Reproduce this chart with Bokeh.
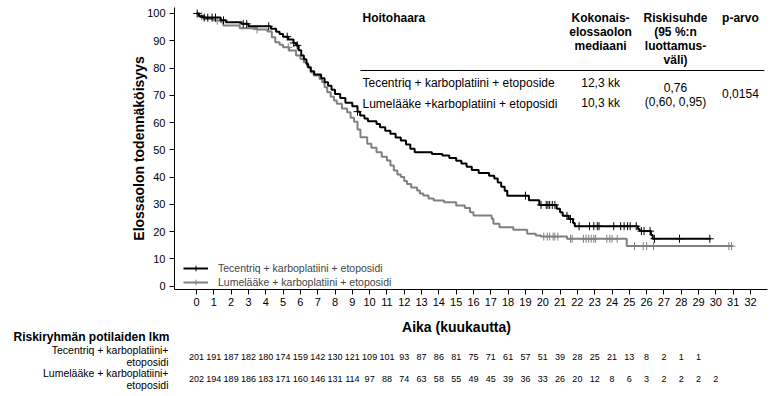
import numpy as np
from bokeh.plotting import figure
from bokeh.models import (ColumnDataSource, Label, Legend, LegendItem,
                          FixedTicker, Range1d)
from bokeh.core.properties import value
from bokeh.embed import file_html
from bokeh.resources import INLINE

# ---------------- data ----------------
months = list(range(0, 33))
y_ticks = list(range(0, 101, 10))

tec_name = "Tecentriq + karboplatiini + etoposidi"
plc_name = "Lumelääke + karboplatiini + etoposidi"

# Kaplan-Meier steps (time in months, survival %)
tec_t = [0, 0.15, 0.4, 1.4, 1.7, 2.6, 3.0, 4.3, 4.6, 4.8, 5.0, 5.3, 5.6, 5.75, 5.9,
         6.05, 6.2, 6.35, 6.45, 6.6, 6.8, 7.2, 7.4, 7.6, 7.8, 8.0, 8.3, 8.6, 9.0,
         9.3, 9.45, 9.7, 9.9, 10.4, 10.6, 10.9, 11.2, 11.5, 11.8, 12.1, 12.35, 12.6,
         13.6, 14.2, 14.6, 15.0, 15.3, 15.6, 15.9, 16.3, 16.9, 17.2, 17.4, 17.6,
         17.8, 17.95, 19.2, 19.8, 20.8, 21.0, 21.15, 21.5, 21.75, 21.85, 25.5,
         25.6, 26.25, 26.35, 29.7]
tec_s = [100, 99.0, 98.5, 97.5, 96.8, 96.2, 95.3, 94.4, 93.3, 92.5, 91.5, 90.5, 89.2,
         88.3, 86.5, 84.6, 83.2, 81.5, 80.2, 78.8, 77.6, 76.3, 74.8, 73.5, 72.0,
         70.5, 69.0, 67.3, 66.0, 64.0, 62.6, 61.5, 60.5, 59.5, 58.3, 57.0, 55.9,
         54.5, 53.4, 52.0, 50.4, 49.1, 48.5, 47.9, 47.0, 46.0, 45.0, 43.8, 42.6,
         41.5, 40.5, 39.5, 38.0, 36.5, 35.0, 33.2, 31.5, 29.8, 28.4, 27.1, 25.8,
         24.6, 23.2, 22.0, 21.0, 20.2, 18.8, 17.4, 17.4]
tec_cens = [0.04, 0.45, 0.65, 0.9, 1.1, 1.56, 2.7, 2.9, 4.17, 5.24, 5.62, 5.82, 9.3,
            19.0, 19.9, 20.2, 20.3, 20.4, 20.55, 20.7, 21.4, 21.6, 22.1, 22.7, 22.95,
            23.15, 23.25, 24.1, 24.5, 24.7, 24.9, 25.05, 25.4, 25.7, 25.85, 26.2,
            26.45, 27.9, 29.65]

plc_t = [0, 0.15, 0.4, 1.0, 1.4, 1.55, 2.5, 3.5, 4.1, 4.35, 4.55, 4.8, 5.0, 5.35,
         5.75, 6.0, 6.2, 6.4, 6.6, 6.77, 7.1, 7.26, 7.4, 7.55, 7.75, 7.94, 8.1, 8.4,
         8.7, 8.9, 9.1, 9.3, 9.47, 9.86, 10.1, 10.4, 10.7, 11.0, 11.2, 11.4, 11.6,
         11.8, 12.0, 12.16, 12.4, 12.74, 12.9, 13.1, 13.4, 13.7, 14.3, 15.0, 15.5,
         15.8, 16.0, 17.05, 17.15, 17.5, 18.3, 19.1, 19.6, 19.9, 21.4, 24.85, 31.0]
plc_s = [100, 99.0, 98.0, 97.4, 96.8, 95.6, 94.6, 94.1, 93.4, 91.3, 89.5, 88.5, 87.6,
         86.4, 84.6, 83.3, 82.1, 80.5, 78.5, 77.3, 76.0, 74.8, 73.0, 71.1, 69.5,
         68.1, 66.9, 65.2, 63.8, 61.8, 60.3, 57.5, 54.6, 52.2, 50.8, 49.1, 47.5,
         46.1, 44.3, 42.4, 41.0, 40.0, 38.6, 37.5, 36.2, 35.1, 34.0, 33.3, 32.2,
         31.4, 30.8, 29.6, 28.7, 27.1, 25.9, 24.7, 22.9, 21.6, 20.7, 19.2, 18.6,
         18.2, 17.4, 14.7, 14.7]
plc_cens = [0.3, 1.2, 3.5, 5.3, 20.06, 20.26, 20.4, 20.6, 20.7, 20.87, 21.6, 21.7,
            22.35, 22.5, 22.65, 22.8, 22.95, 23.05, 23.7, 23.87, 24.0, 24.3, 25.3,
            25.8, 26.0, 26.4, 30.75, 30.9]

risk_tec = [201, 191, 187, 182, 180, 174, 159, 142, 130, 121, 109, 101, 93, 87, 86,
            81, 75, 71, 61, 57, 51, 39, 28, 25, 21, 13, 8, 2, 1, 1]
risk_plc = [202, 194, 189, 186, 183, 171, 160, 146, 131, 114, 97, 88, 74, 63, 58, 55,
            49, 45, 39, 36, 33, 26, 20, 12, 8, 6, 3, 2, 2, 2, 2]

# summary table
tbl_head = ["Hoitohaara", ["Kokonais-", "elossaolon", "mediaani"],
            ["Riskisuhde", "(95 %:n", "luottamus-", "väli)"], "p-arvo"]
tbl_arms = ["Tecentriq + karboplatiini + etoposide",
            "Lumelääke +karboplatiini + etoposidi"]
tbl_median = ["12,3 kk", "10,3 kk"]
tbl_hr = ["0,76", "(0,60, 0,95)"]
tbl_p = "0,0154"

x_title = "Aika (kuukautta)"
y_title = "Elossaolon todennäköisyys"
risk_title = "Riskiryhmän potilaiden lkm"
risk_rows = [["Tecentriq + karboplatiini+", "etoposidi"],
             ["Lumelääke + karboplatiini+", "etoposidi"]]

# ---------------- layout / styling ----------------
FONT = "Liberation Sans"
BLACK = "#000000"
GRAY = "#808080"
W = 776
PX0 = 196.0          # x pixel of month 0
PXM = 17.3125        # pixels per month
FRAME_L, FRAME_R = 174, 767


def px2t(px):
    return (px - PX0) / PXM


def step_value(ts, ss, c):
    idx = np.searchsorted(np.array(ts), np.array(c), side="right") - 1
    return [ss[i] for i in idx]


MAIN_H = 312
p = figure(width=W, height=MAIN_H, output_backend="svg", toolbar_location=None,
           x_range=Range1d(px2t(FRAME_L), px2t(FRAME_R)),
           y_range=Range1d(-1.21, 102.2),
           min_border_left=FRAME_L, min_border_right=W - FRAME_R,
           min_border_top=7, min_border_bottom=MAIN_H - 289)
p.outline_line_color = None
p.grid.visible = False
p.background_fill_color = "white"
p.border_fill_color = "white"

for ax in (p.xaxis[0], p.yaxis[0]):
    ax.axis_line_color = BLACK
    ax.major_tick_line_color = BLACK
    ax.major_tick_in = 0
    ax.major_tick_out = 5
    ax.minor_tick_line_color = None
    ax.major_label_text_font = FONT
    ax.major_label_text_font_size = "11px"
    ax.major_label_text_color = BLACK
    ax.axis_label_text_font = FONT
    ax.axis_label_text_font_size = "14px"
    ax.axis_label_text_font_style = "bold"
    ax.axis_label_text_color = BLACK

p.xaxis.ticker = FixedTicker(ticks=months)
p.yaxis.ticker = FixedTicker(ticks=y_ticks)
p.xaxis.major_label_standoff = 3
p.yaxis.major_label_standoff = 4
p.yaxis.axis_label = y_title
p.yaxis.axis_label_standoff = -3

# curves
r_plc = p.step(plc_t, plc_s, mode="after", line_color=GRAY, line_width=2)
r_plc_c = p.scatter(plc_cens, step_value(plc_t, plc_s, plc_cens), marker="cross",
                    size=8, line_color=GRAY, line_width=1)
r_tec = p.step(tec_t, tec_s, mode="after", line_color=BLACK, line_width=2)
r_tec_c = p.scatter(tec_cens, step_value(tec_t, tec_s, tec_cens), marker="cross",
                    size=8, line_color=BLACK, line_width=1)

legend = Legend(items=[LegendItem(label=tec_name, renderers=[r_tec, r_tec_c]),
                       LegendItem(label=plc_name, renderers=[r_plc, r_plc_c])],
                location=(9, 0), padding=0, margin=0, spacing=0,
                glyph_width=25, glyph_height=14, label_height=14,
                label_standoff=10, label_text_font=FONT,
                label_text_font_size="10.5px", border_line_color=None,
                background_fill_alpha=0)
p.add_layout(legend)


def lab(x, y, text, align="left", bold=False, size="12px"):
    p.add_layout(Label(x=x, y=y, text=text, text_align=align,
                       text_baseline="middle", text_font=FONT,
                       text_font_size=size, text_color=BLACK,
                       text_font_style="bold" if bold else "normal"))


# summary table (top right)
lab(9.59, 98.5, tbl_head[0], bold=True)
for i, line in enumerate(tbl_head[1]):
    lab(23.34, 98.5 - i * 5.2, line, align="center", bold=True)
for i, line in enumerate(tbl_head[2]):
    lab(27.67, 98.5 - i * 5.2, line, align="center", bold=True)
lab(31.42, 98.5, tbl_head[3], align="center", bold=True)
p.segment(x0=[9.47], y0=[79.1], x1=[32.8], y1=[79.1], line_color=BLACK, line_width=1)
lab(9.59, 74.4, tbl_arms[0])
lab(9.59, 66.9, tbl_arms[1])
lab(23.34, 74.6, tbl_median[0], align="center")
lab(23.34, 67.0, tbl_median[1], align="center")
lab(27.67, 73.0, tbl_hr[0], align="center")
lab(27.67, 67.6, tbl_hr[1], align="center")
lab(31.42, 70.6, tbl_p, align="center")

# ---------------- risk table figure (below, separate root) ----------------
T_H = 396 - MAIN_H
q = figure(width=W, height=T_H, output_backend="svg", toolbar_location=None,
           x_range=Range1d(px2t(0), px2t(W)), y_range=Range1d(396, MAIN_H),
           min_border_left=0, min_border_right=0, min_border_top=0,
           min_border_bottom=0)
q.axis.visible = False
q.grid.visible = False
q.outline_line_color = None
q.background_fill_color = "white"
q.border_fill_color = "white"


def qtext(x, y, text, align="left", bold=False, size="12px"):
    q.text(x=[x], y=[y], text=[text], text_align=align, text_baseline="middle",
           text_font=value(FONT), text_font_size=size, text_color=BLACK,
           text_font_style="bold" if bold else "normal")


qtext(px2t(456), 326, x_title, align="center", bold=True, size="14px")
qtext(px2t(13), 336, risk_title, bold=True)
qtext(px2t(168), 349, risk_rows[0][0], align="right", size="10.5px")
qtext(px2t(168), 361, risk_rows[0][1], align="right", size="10.5px")
qtext(px2t(168), 372, risk_rows[1][0], align="right", size="10.5px")
qtext(px2t(168), 384, risk_rows[1][1], align="right", size="10.5px")

src_t = ColumnDataSource(dict(x=months[:len(risk_tec)], y=[356] * len(risk_tec),
                              t=[str(v) for v in risk_tec]))
src_p = ColumnDataSource(dict(x=months[:len(risk_plc)], y=[378] * len(risk_plc),
                              t=[str(v) for v in risk_plc]))
for src in (src_t, src_p):
    q.text(x="x", y="y", text="t", source=src, text_align="center",
           text_baseline="middle", text_font=value(FONT), text_font_size="9px",
           text_color=BLACK)

open("out.html", "w").write(file_html([p, q], INLINE))
